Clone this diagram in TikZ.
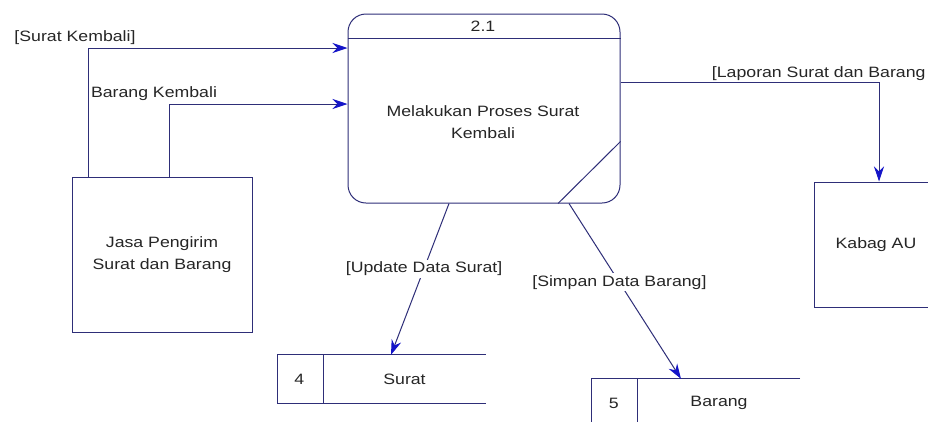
\documentclass[tikz,border=0pt]{standalone}
\usepackage{fontspec}
\setmainfont{Liberation Sans}[FakeStretch=1.18]
\usepackage{tikz}
\usetikzlibrary{arrows.meta, positioning, calc}
\definecolor{LineNavy}{HTML}{2E2E78}
\definecolor{TipBlue}{HTML}{1414C8}
\definecolor{InkGray}{HTML}{262626}
\tikzset{
  procbox/.style={draw=LineNavy, line width=1pt, rounded corners=18pt, align=center,
    minimum width=272pt, minimum height=189pt, inner sep=0pt},
  entbox/.style={draw=LineNavy, line width=1pt, align=center, inner sep=0pt},
  storebox/.style={minimum width=208pt, minimum height=48pt, inner sep=0pt},
  flow/.style={-{Stealth[length=15pt, width=10pt, color=TipBlue]}, line width=1pt, draw=LineNavy},
  flowlbl/.style={fill=white, inner sep=2pt, text=InkGray},
}

\begin{document}
\begin{tikzpicture}[x=1pt, y=-1pt,
    every node/.style={font=\fontsize{15pt}{21.5pt}\selectfont, text=InkGray}]
    \path[use as bounding box, clip] (0,0) rectangle (928,421);
    \fill[white] (0,0) rectangle (928,421);
    \node[procbox] (proc) at (484,108.5) {};
    \draw[LineNavy, line width=1pt] ([yshift=-25pt]proc.north west) -- ([yshift=-25pt]proc.north east);
    \draw[LineNavy, line width=1pt] ([yshift=62pt]proc.south east) -- ([xshift=74pt]proc.south);
    \node (procid) at (483,26) {2.1};
    \node[align=center] (proctxt) at (483,122) {Melakukan Proses Surat\\Kembali};
    \node[entbox, minimum width=180pt, minimum height=155pt] (jasa) at (162,254.5) {Jasa Pengirim\\Surat dan Barang};
    \node[entbox, minimum width=124pt, minimum height=125pt] (kabag) at (876,244.5) {Kabag AU};
    \node[storebox] (surat) at (381.5,379) {};
    \draw[LineNavy, line width=1pt] (surat.north east) -- (surat.north west) -- (surat.south west) -- (surat.south east);
    \draw[LineNavy, line width=1pt] ([xshift=46pt]surat.north west) -- ([xshift=46pt]surat.south west);
    \node (suratid) at ([xshift=22pt]surat.west) {4};
    \node (suratnm) at ([xshift=23pt]surat.center) {Surat};
    \node[storebox] (barang) at (696,403) {};
    \draw[LineNavy, line width=1pt] (barang.north east) -- (barang.north west) -- (barang.south west) -- (barang.south east);
    \draw[LineNavy, line width=1pt] ([xshift=46pt]barang.north west) -- ([xshift=46pt]barang.south west);
    \node (barangid) at ([xshift=22pt]barang.west) {5};
    \node (barangnm) at ([xshift=23pt]barang.center) {Barang};
    \draw[flow] ([xshift=-74pt]jasa.north) |- node[pos=0.5, anchor=south, xshift=-13pt, inner sep=3pt]{[Surat Kembali]} ([yshift=60.5pt]proc.west);
    \draw[flow] ([xshift=7pt]jasa.north) |- node[pos=0.5, anchor=south, xshift=-15pt, inner sep=3pt]{Barang Kembali} ([yshift=4.5pt]proc.west);
    \draw[flow] ([yshift=26.5pt]proc.east) -| node[pos=0.5, anchor=south east, xshift=48pt, inner sep=1pt]{[Laporan Surat dan Barang} ([xshift=3pt]kabag.north);
    \draw[flow] ([xshift=-35pt]proc.south) -- node[flowlbl, pos=0.43]{[Update Data Surat]} ([xshift=9.5pt]surat.north);
    \draw[flow] ([xshift=85pt]proc.south) -- node[flowlbl, pos=0.45]{[Simpan Data Barang]} ([xshift=-15pt]barang.north);
  \end{tikzpicture}
\end{document}
